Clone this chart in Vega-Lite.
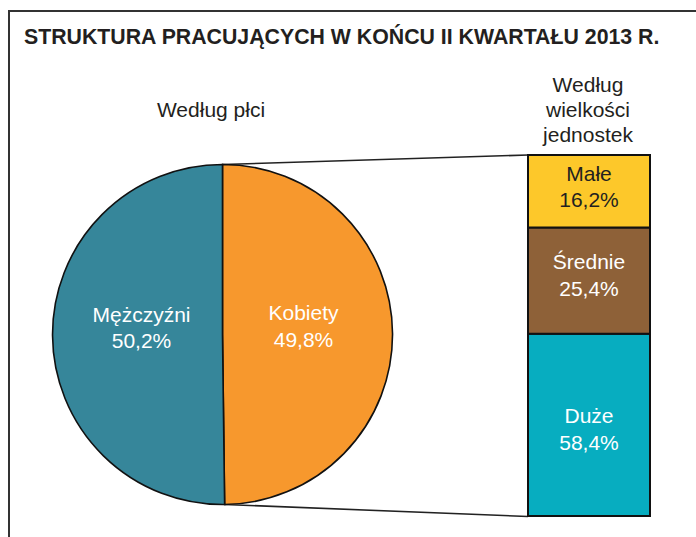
{
  "$schema": "https://vega.github.io/schema/vega-lite/v6.json",
  "width": 696,
  "height": 537,
  "autosize": {"type": "none"},
  "padding": 0,
  "background": "white",
  "config": {"view": {"stroke": null}, "font": "Liberation Sans", "text": {"font": "Liberation Sans"}},
  "datasets": {
    "plec": [
      {"plec": "Kobiety", "udzial": 49.8, "kolejnosc": 1, "etykieta": "Kobiety\n49,8%"},
      {"plec": "Mężczyźni", "udzial": 50.2, "kolejnosc": 2, "etykieta": "Mężczyźni\n50,2%"}
    ],
    "wielkosc": [
      {"kategoria": "Duże", "udzial": 58.4, "kolejnosc": 1, "etykieta": "Duże\n58,4%"},
      {"kategoria": "Średnie", "udzial": 25.4, "kolejnosc": 2, "etykieta": "Średnie\n25,4%"},
      {"kategoria": "Małe", "udzial": 16.2, "kolejnosc": 3, "etykieta": "Małe\n16,2%"}
    ],
    "jeden": [{}]
  },
  "layer": [
    {
      "data": {"name": "jeden"},
      "mark": {"type": "rule", "stroke": "#333333", "strokeWidth": 2},
      "encoding": {
        "x": {"datum": 8, "type": "quantitative", "scale": {"domain": [0, 696], "nice": false, "zero": false}, "axis": null},
        "x2": {"datum": 696},
        "y": {"datum": 11, "type": "quantitative", "scale": {"domain": [0, 537], "reverse": true, "nice": false, "zero": false}, "axis": null}
      }
    },
    {
      "data": {"name": "jeden"},
      "mark": {"type": "rule", "stroke": "#333333", "strokeWidth": 2},
      "encoding": {
        "x": {"datum": 9, "type": "quantitative", "scale": {"domain": [0, 696], "nice": false, "zero": false}, "axis": null},
        "y": {"datum": 10, "type": "quantitative", "scale": {"domain": [0, 537], "reverse": true, "nice": false, "zero": false}, "axis": null},
        "y2": {"datum": 537}
      }
    },
    {
      "data": {"name": "jeden"},
      "mark": {"type": "text", "align": "left", "baseline": "alphabetic", "fontSize": 21.3, "fontWeight": "bold", "color": "#231f20"},
      "encoding": {
        "text": {"value": "STRUKTURA PRACUJĄCYCH W KOŃCU II KWARTAŁU 2013 R."},
        "x": {"datum": 24, "type": "quantitative", "scale": {"domain": [0, 696], "nice": false, "zero": false}, "axis": null},
        "y": {"datum": 44, "type": "quantitative", "scale": {"domain": [0, 537], "reverse": true, "nice": false, "zero": false}, "axis": null}
      }
    },
    {
      "data": {"name": "jeden"},
      "mark": {"type": "text", "align": "center", "baseline": "alphabetic", "fontSize": 21, "color": "#231f20"},
      "encoding": {
        "text": {"value": "Według płci"},
        "x": {"datum": 211, "type": "quantitative", "scale": {"domain": [0, 696], "nice": false, "zero": false}, "axis": null},
        "y": {"datum": 117, "type": "quantitative", "scale": {"domain": [0, 537], "reverse": true, "nice": false, "zero": false}, "axis": null}
      }
    },
    {
      "data": {"name": "jeden"},
      "mark": {"type": "text", "align": "center", "baseline": "alphabetic", "fontSize": 21, "color": "#231f20", "lineBreak": "\n", "lineHeight": 25},
      "encoding": {
        "text": {"value": "Według\nwielkości\njednostek"},
        "x": {"datum": 588, "type": "quantitative", "scale": {"domain": [0, 696], "nice": false, "zero": false}, "axis": null},
        "y": {"datum": 92, "type": "quantitative", "scale": {"domain": [0, 537], "reverse": true, "nice": false, "zero": false}, "axis": null}
      }
    },
    {
      "data": {"name": "jeden"},
      "mark": {"type": "rule", "stroke": "#222222", "strokeWidth": 1.6},
      "encoding": {
        "x": {"datum": 222, "type": "quantitative", "scale": {"domain": [0, 696], "nice": false, "zero": false}, "axis": null},
        "x2": {"datum": 528},
        "y": {"datum": 164.5, "type": "quantitative", "scale": {"domain": [0, 537], "reverse": true, "nice": false, "zero": false}, "axis": null},
        "y2": {"datum": 155}
      }
    },
    {
      "data": {"name": "jeden"},
      "mark": {"type": "rule", "stroke": "#222222", "strokeWidth": 1.6},
      "encoding": {
        "x": {"datum": 224.5, "type": "quantitative", "scale": {"domain": [0, 696], "nice": false, "zero": false}, "axis": null},
        "x2": {"datum": 528},
        "y": {"datum": 504.5, "type": "quantitative", "scale": {"domain": [0, 537], "reverse": true, "nice": false, "zero": false}, "axis": null},
        "y2": {"datum": 516.5}
      }
    },
    {
      "data": {"name": "plec"},
      "mark": {"type": "arc", "outerRadius": 170, "stroke": "#111111", "strokeWidth": 1.6},
      "encoding": {
        "theta": {"field": "udzial", "type": "quantitative", "stack": true},
        "order": {"field": "kolejnosc"},
        "color": {"field": "plec", "type": "nominal", "scale": {"domain": ["Mężczyźni", "Kobiety"], "range": ["#36869a", "#f7982d"]}, "legend": null},
        "x": {"datum": 222.5, "type": "quantitative", "scale": {"domain": [0, 696], "nice": false, "zero": false}, "axis": null},
        "y": {"datum": 334.5, "type": "quantitative", "scale": {"domain": [0, 537], "reverse": true, "nice": false, "zero": false}, "axis": null}
      }
    },
    {
      "data": {"name": "plec"},
      "mark": {"type": "text", "radius": 81, "dy": -19.5, "fontSize": 21, "lineBreak": "\n", "lineHeight": 26.5, "color": "white", "align": "center", "baseline": "middle"},
      "encoding": {
        "theta": {"field": "udzial", "type": "quantitative", "stack": true},
        "order": {"field": "kolejnosc"},
        "detail": {"field": "plec"},
        "text": {"field": "etykieta"},
        "x": {"datum": 222.5, "type": "quantitative", "scale": {"domain": [0, 696], "nice": false, "zero": false}, "axis": null},
        "y": {"datum": 334.5, "type": "quantitative", "scale": {"domain": [0, 537], "reverse": true, "nice": false, "zero": false}, "axis": null}
      }
    },
    {
      "data": {"name": "wielkosc"},
      "transform": [
        {"stack": "udzial", "groupby": [], "sort": [{"field": "kolejnosc"}], "as": ["od", "do"]}
      ],
      "mark": {"type": "rect", "stroke": "#111111", "strokeWidth": 2},
      "encoding": {
        "x": {"datum": 528, "type": "quantitative", "scale": {"domain": [0, 696], "nice": false, "zero": false}, "axis": null},
        "x2": {"datum": 650},
        "y": {"field": "od", "type": "quantitative", "scale": {"type": "pow", "exponent": 1.27, "domain": [0, 100], "range": [516, 155], "nice": false, "zero": false}, "axis": null},
        "y2": {"field": "do"},
        "color": {"field": "kategoria", "type": "nominal", "scale": {"domain": ["Małe", "Średnie", "Duże"], "range": ["#fdc82a", "#8e6138", "#07adc0"]}, "legend": null}
      }
    },
    {
      "data": {"name": "wielkosc"},
      "mark": {"type": "text", "fontSize": 21, "lineBreak": "\n", "lineHeight": 26.5, "align": "center", "baseline": "middle", "dy": -13.25},
      "encoding": {
        "x": {"datum": 589, "type": "quantitative", "scale": {"domain": [0, 696], "nice": false, "zero": false}, "axis": null},
        "y": {"field": "udzial", "type": "quantitative", "stack": "zero", "bandPosition": 0.55, "scale": {"type": "pow", "exponent": 1.27, "domain": [0, 100], "range": [516, 155], "nice": false, "zero": false}, "axis": null},
        "order": {"field": "kolejnosc"},
        "detail": {"field": "kategoria"},
        "text": {"field": "etykieta"},
        "color": {"condition": {"test": "datum.kategoria === 'Małe'", "value": "#231f20"}, "value": "white"}
      }
    }
  ],
  "resolve": {"scale": {"y": "independent", "color": "independent"}}
}
